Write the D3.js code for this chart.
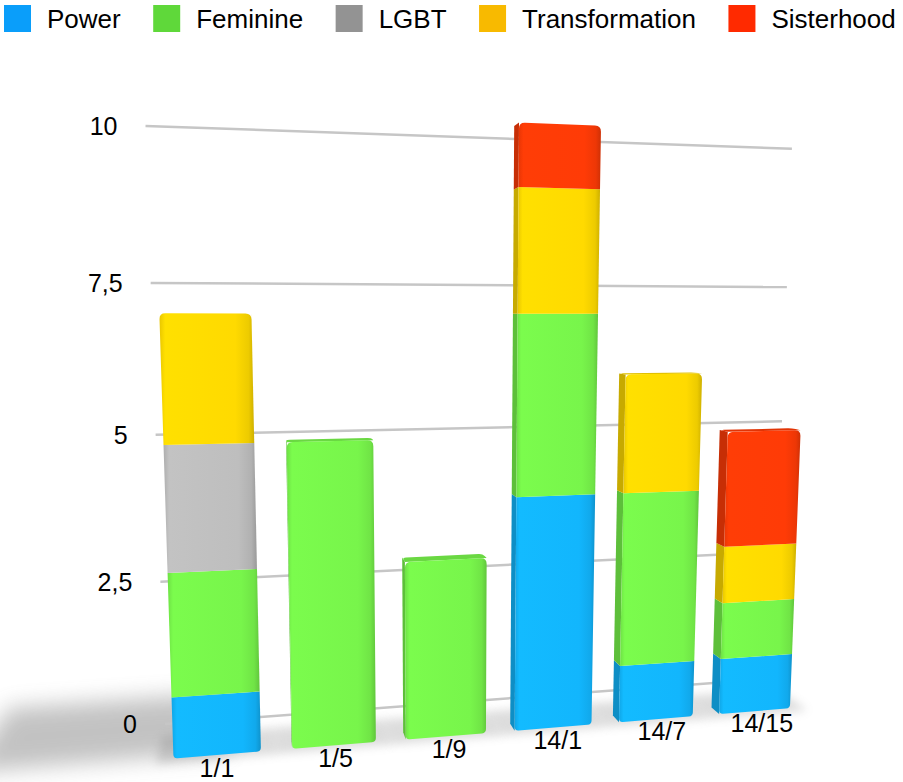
<!DOCTYPE html>
<html><head><meta charset="utf-8">
<script src="https://cdn.jsdelivr.net/npm/d3@7"></script>
<style>
html,body{margin:0;padding:0;background:#fff;}
svg{display:block;font-family:"Liberation Sans",Arial,Helvetica,sans-serif;}
</style>
</head><body>
<svg id="chart" width="903" height="782"></svg>
<script>
// ---------------- data ----------------
const categories = ["1/1", "1/5", "1/9", "14/1", "14/7", "14/15"];
const seriesNames = ["Power", "Feminine", "LGBT", "Transformation", "Sisterhood"];
const power          = [1, 0, 0, 4, 1, 1];
const feminine       = [2, 5, 3, 3, 3, 1];
const lgbt           = [2, 0, 0, 0, 0, 0];
const transformation = [2, 0, 0, 2, 2, 1];
const sisterhood     = [0, 0, 0, 1, 0, 2];
const yTicks = [0, 2.5, 5, 7.5, 10];
const legendColors = ["#0A9EFA", "#5FD83A", "#939393", "#F8BA00", "#FF2A00"];
const barColors    = ["#12B6FD", "#78F54B", "#BEBEBE", "#FFDA00", "#FF3B06"];

// ---------------- camera (3D perspective) ----------------
const F = 1000, CX = 451.5, CY = 428, TAN_P = 0.11, TAN_A = 0.1962;
const X0 = -4.644, Z0 = 15.111, EYE = 6.93;
const cosA = 1 / Math.sqrt(1 + TAN_A * TAN_A), sinA = TAN_A * cosA;
const cosP = 1 / Math.sqrt(1 + TAN_P * TAN_P), sinP = TAN_P * cosP;
function cam(X, v, Z) {
  const ux = X0 + X * cosA - Z * sinA;
  const uz = Z0 + X * sinA + Z * cosA;
  return [ux, v - EYE, uz];
}
function project(X, v, Z) {
  const [ux, uy, uz] = cam(X, v, Z);
  const yc = uy * cosP + uz * sinP;
  const zc = uz * cosP - uy * sinP;
  return [CX + F * ux / zc, CY - F * yc / zc];
}

// ---------------- scales ----------------
const STEP = 1.857;
const x = d3.scaleBand().domain(categories).range([0, STEP * categories.length])
  .paddingInner(0.2676).paddingOuter(0.1338);
const y = d3.scaleLinear().domain([0, 10]).range([0, 10]);
const BAR_DEPTH = 0.3, WALL_Z = 1.426, WALL_EXTRA = 0.2;

const rows = categories.map((c, i) => ({
  category: c, Power: power[i], Feminine: feminine[i], LGBT: lgbt[i],
  Transformation: transformation[i], Sisterhood: sisterhood[i]
}));
const stacked = d3.stack().keys(seriesNames)(rows);
const fmt = d3.formatLocale({decimal: ",", thousands: ".", grouping: [3], currency: ["", "€"]}).format("~g");

const svg = d3.select("#chart");
const defs = svg.append("defs");
defs.append("filter").attr("id", "blurBig").attr("x", "-50%").attr("y", "-100%").attr("width", "200%").attr("height", "300%")
  .append("feGaussianBlur").attr("stdDeviation", 11);
defs.append("filter").attr("id", "blurSmall").attr("x", "-50%").attr("y", "-100%").attr("width", "200%").attr("height", "300%")
  .append("feGaussianBlur").attr("stdDeviation", 5);
barColors.forEach((c, k) => {
  const g = defs.append("linearGradient").attr("id", "front" + k).attr("x1", 0).attr("x2", 1).attr("y1", 0).attr("y2", 0);
  const base = d3.color(c);
  g.append("stop").attr("offset", "0%").attr("stop-color", base.darker(0.25));
  g.append("stop").attr("offset", "6%").attr("stop-color", base.brighter(0.08));
  g.append("stop").attr("offset", "80%").attr("stop-color", base);
  g.append("stop").attr("offset", "94%").attr("stop-color", base.darker(0.2));
  g.append("stop").attr("offset", "100%").attr("stop-color", base.darker(0.6));
});

const poly = pts => "M" + pts.map(p => p[0].toFixed(2) + "," + p[1].toFixed(2)).join("L") + "Z";
function roundPoly(pts, radii) {
  const n = pts.length; let d = "";
  for (let i = 0; i < n; i++) {
    const p = pts[i], prev = pts[(i - 1 + n) % n], next = pts[(i + 1) % n], r = radii[i];
    if (!r) { d += (i === 0 ? "M" : "L") + p[0] + "," + p[1]; continue; }
    const l1 = Math.hypot(prev[0] - p[0], prev[1] - p[1]), l2 = Math.hypot(next[0] - p[0], next[1] - p[1]);
    const r1 = Math.min(r, l1 / 2), r2 = Math.min(r, l2 / 2);
    const a = [p[0] + (prev[0] - p[0]) * r1 / l1, p[1] + (prev[1] - p[1]) * r1 / l1];
    const b = [p[0] + (next[0] - p[0]) * r2 / l2, p[1] + (next[1] - p[1]) * r2 / l2];
    d += (i === 0 ? "M" : "L") + a[0] + "," + a[1] + "Q" + p[0] + "," + p[1] + " " + b[0] + "," + b[1];
  }
  return d + "Z";
}

// ---------------- gridlines (back wall) ----------------
const xEnd = x.range()[1] + WALL_EXTRA;
const grid = svg.append("g");
yTicks.forEach(t => {
  const a = project(0, y(t), WALL_Z), b = project(xEnd, y(t), WALL_Z);
  grid.append("line").attr("x1", a[0]).attr("y1", a[1]).attr("x2", b[0]).attr("y2", b[1])
    .attr("stroke", "#c6c6c6").attr("stroke-width", 2.5);
});

// ---------------- floor shadows ----------------
const shadows = svg.append("g");
{
  const c0 = categories[0];
  const xl = -2.8, xr = x(c0) + x.bandwidth() * 0.6;
  shadows.append("path").attr("d", poly([project(xl, 0, 0.1), project(xr, 0, 0.1), project(xr, 0, 2.7), project(xl, 0, 2.7)]))
    .attr("fill", "#707070").attr("opacity", 0.42).attr("filter", "url(#blurBig)");
}
categories.forEach(c => {
  const xl = x(c) - 0.25, xr = x(c) + x.bandwidth() + 0.25;
  shadows.append("path").attr("d", poly([project(xl, 0, -0.15), project(xr, 0, -0.15), project(xr, 0, BAR_DEPTH + 0.6), project(xl, 0, BAR_DEPTH + 0.6)]))
    .attr("fill", "#777").attr("opacity", 0.25).attr("filter", "url(#blurSmall)");
});

// tick labels (drawn over the shadow)
yTicks.forEach(t => {
  const a = project(0, y(t), WALL_Z);
  grid.append("text").attr("x", a[0] - 28).attr("y", a[1]).attr("dy", "0.36em")
    .attr("text-anchor", "end").attr("font-size", 25).attr("fill", "#000").text(fmt(t));
});
svg.node().appendChild(grid.node());

// ---------------- bars ----------------
const bars = svg.append("g");
function faceVisible(side, X, v) {
  const [ux, , uz] = cam(X, v, 0);
  const nx = side * cosA, nz = side * sinA;
  return -(ux * nx + uz * nz) > 0;
}
categories.forEach((c, i) => {
  const xl = x(c), xr = x(c) + x.bandwidth();
  const segs = stacked.map((layer, k) => ({k, v0: layer[i][0], v1: layer[i][1]})).filter(s => s.v1 > s.v0);
  const g = bars.append("g");
  const bottom = segs[0], top = segs[segs.length - 1];
  segs.forEach(s => {
    const col = d3.color(barColors[s.k]).darker(0.7);
    if (faceVisible(-1, xl, y(s.v0))) {
      g.append("path").attr("d", poly([project(xl, y(s.v0), 0), project(xl, y(s.v0), BAR_DEPTH), project(xl, y(s.v1), BAR_DEPTH), project(xl, y(s.v1), 0)]))
        .attr("fill", col);
    }
    if (faceVisible(1, xr, y(s.v0))) {
      g.append("path").attr("d", poly([project(xr, y(s.v0), 0), project(xr, y(s.v0), BAR_DEPTH), project(xr, y(s.v1), BAR_DEPTH), project(xr, y(s.v1), 0)]))
        .attr("fill", col);
    }
  });
  if (y(top.v1) < EYE) {
    g.append("path").attr("d", roundPoly([project(xl, y(top.v1), 0), project(xr, y(top.v1), 0), project(xr, y(top.v1), BAR_DEPTH), project(xl, y(top.v1), BAR_DEPTH)], [0, 0, 4, 4]))
      .attr("fill", d3.color(barColors[top.k]).darker(0.35));
  }
  segs.forEach(s => {
    const pts = [project(xl, y(s.v0), 0), project(xr, y(s.v0), 0), project(xr, y(s.v1), 0), project(xl, y(s.v1), 0)];
    const r = [s === bottom ? 4 : 0, s === bottom ? 4 : 0, s === top ? 6 : 0, s === top ? 6 : 0];
    g.append("path").attr("d", roundPoly(pts, r)).attr("fill", "url(#front" + s.k + ")");
  });
  const lp = project(xl + x.bandwidth() / 2, 0, -0.25);
  svg.append("text").attr("x", lp[0]).attr("y", lp[1] + 15).attr("text-anchor", "middle")
    .attr("font-size", 25).attr("fill", "#000").text(c);
});

// ---------------- legend ----------------
const legend = svg.append("g");
let lx = 4;
seriesNames.forEach((name, k) => {
  legend.append("rect").attr("x", lx).attr("y", 5).attr("width", 27).attr("height", 27).attr("fill", legendColors[k]);
  const t = legend.append("text").attr("x", lx + 43).attr("y", 28).attr("font-size", 26).attr("fill", "#000").text(name);
  lx += 43 + t.node().getComputedTextLength() + 32.5;
});
</script>
</body></html>
